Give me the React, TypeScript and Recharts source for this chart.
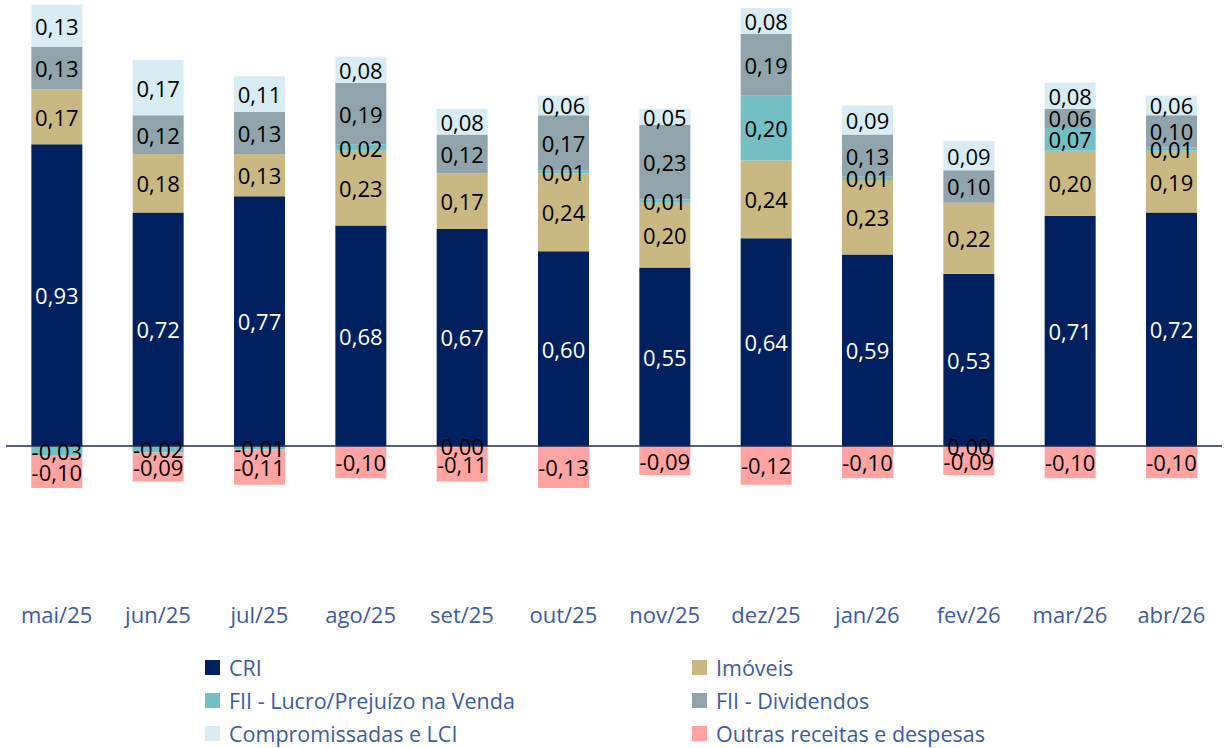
import React from "react";
import { BarChart, Bar, XAxis, YAxis, ReferenceLine, LabelList } from "recharts";

const months = ["mai/25", "jun/25", "jul/25", "ago/25", "set/25", "out/25", "nov/25", "dez/25", "jan/26", "fev/26", "mar/26", "abr/26"];
const cri = [0.93, 0.72, 0.77, 0.68, 0.67, 0.6, 0.55, 0.64, 0.59, 0.53, 0.71, 0.72];
const imoveis = [0.17, 0.18, 0.13, 0.23, 0.17, 0.24, 0.2, 0.24, 0.23, 0.22, 0.2, 0.19];
const fiiLucro = [-0.03, -0.02, -0.01, 0.02, 0.0, 0.01, 0.01, 0.2, 0.01, 0.0, 0.07, 0.01];
const fiiDiv = [0.13, 0.12, 0.13, 0.19, 0.12, 0.17, 0.23, 0.19, 0.13, 0.1, 0.06, 0.1];
const compromissadas = [0.13, 0.17, 0.11, 0.08, 0.08, 0.06, 0.05, 0.08, 0.09, 0.09, 0.08, 0.06];
const outras = [-0.1, -0.09, -0.11, -0.1, -0.11, -0.13, -0.09, -0.12, -0.1, -0.09, -0.1, -0.1];

const seriesDefs = [
  { key: "cri", name: "CRI", color: "#00205f", label: "#ffffff" },
  { key: "imoveis", name: "Imóveis", color: "#c9b882", label: "#000000" },
  { key: "fiiLucro", name: "FII - Lucro/Prejuízo na Venda", color: "#72bfc4", label: "#000000" },
  { key: "fiiDiv", name: "FII - Dividendos", color: "#91a4ab", label: "#000000" },
  { key: "compromissadas", name: "Compromissadas e LCI", color: "#daecf3", label: "#000000" },
  { key: "outras", name: "Outras receitas e despesas", color: "#ffa4a3", label: "#000000" },
];
const legendOrder = ["cri", "imoveis", "fiiLucro", "fiiDiv", "compromissadas", "outras"];

const data = months.map((m, i) => ({
  month: m,
  cri: cri[i],
  imoveis: imoveis[i],
  fiiLucro: fiiLucro[i],
  fiiDiv: fiiDiv[i],
  compromissadas: compromissadas[i],
  outras: outras[i],
}));

const FONT = "'Open Sans', sans-serif";
const LABEL_SIZE = 22;
const fmt = (v: number) => v.toFixed(2).replace(".", ",");

const makeLabel = (fill: string, key: string) => (props: any) => {
  const { x, y, width, height, value, index } = props;
  if (value === null || value === undefined) return null;
  const cx = Number(x) + Number(width) / 2;
  const top = Math.min(Number(y), Number(y) + Number(height));
  const h = Math.abs(Number(height));
  const items: any[] = [];
  if (key === "fiiLucro" && value === 0) return null;
  items.push(
    <text key="a" x={cx} y={top + h / 2} textAnchor="middle" dominantBaseline="central" fontSize={LABEL_SIZE} fontFamily={FONT} fill={fill}>
      {fmt(Number(value))}
    </text>
  );
  if (key === "outras" && fiiLucro[index] === 0) {
    items.push(
      <text key="b" x={cx} y={top} textAnchor="middle" dominantBaseline="central" fontSize={LABEL_SIZE} fontFamily={FONT} fill="#000000">
        {fmt(fiiLucro[index])}
      </text>
    );
  }
  return <g>{items}</g>;
};

const LegendBlock = () => (
  <div style={{ position: "absolute", left: 0, top: 652, width: 1228, height: 96, fontFamily: FONT }}>
    {[0, 1, 2].map((r) =>
      [0, 1].map((c) => {
        const s = seriesDefs.find((d) => d.key === legendOrder[r * 2 + c])!;
        return (
          <div
            key={s.key}
            style={{
              position: "absolute",
              left: c === 0 ? 205 : 692,
              top: r * 33,
              display: "flex",
              alignItems: "center",
              height: 30,
              whiteSpace: "nowrap",
            }}
          >
            <span style={{ display: "inline-block", width: 15, height: 15, background: s.color, marginRight: 9 }} />
            <span style={{ color: "#3d5aa3", fontSize: 21.5 }}>{s.name}</span>
          </div>
        );
      })
    )}
  </div>
);

export default function App() {
  return (
    <div style={{ position: "absolute", left: 0, top: 0, width: 1228, height: 748, background: "#ffffff" }}>
      <BarChart
        width={1228}
        height={748}
        data={data}
        stackOffset="sign"
        barCategoryGap="25%"
        margin={{ top: 0, right: 6, bottom: 109, left: 6 }}
      >
        <XAxis
          dataKey="month"
          axisLine={false}
          tickLine={false}
          tickMargin={2}
          interval={0}
          height={40}
          tick={{ fill: "#3d5aa3", fontSize: 22, fontFamily: FONT }}
        />
        <YAxis hide domain={[-0.472, 1.375]} type="number" allowDataOverflow />
        {seriesDefs.map((s) => (
          <Bar key={s.key} dataKey={s.key} name={s.name} stackId="a" fill={s.color} isAnimationActive={false}>
            <LabelList dataKey={s.key} content={makeLabel(s.label, s.key)} />
          </Bar>
        ))}
        <ReferenceLine y={0} stroke="#1f2a44" strokeWidth={1.5} />
      </BarChart>
      <LegendBlock />
    </div>
  );
}
